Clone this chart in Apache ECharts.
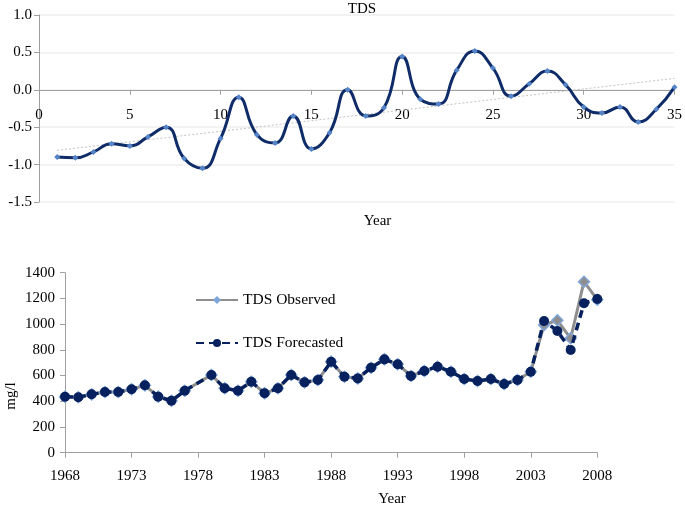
<!DOCTYPE html>
<html>
<head>
<meta charset="utf-8">
<script src="https://cdn.jsdelivr.net/npm/echarts@6/dist/echarts.min.js"></script>
<style>
  html, body { margin: 0; padding: 0; background: #fff; }
  #chart { width: 685px; height: 510px; }
</style>
</head>
<body>
<div id="chart"></div>
<script>
// ---- Top chart data (standardised TDS by year index) ----
var tdsIndex = [1,2,3,4,5,6,7,8,9,10,11,12,13,14,15,16,17,18,19,20,21,22,23,24,25,26,27,28,29,30,31,32,33,34,35];
var tdsValues = [-0.90,-0.91,-0.83,-0.72,-0.75,-0.63,-0.50,-0.92,-1.05,-0.65,
                 -0.10,-0.60,-0.71,-0.35,-0.79,-0.575,0.00,-0.35,-0.24,0.445,
                 -0.125,-0.19,0.26,0.52,0.29,-0.085,0.08,0.25,0.067,-0.23,
                 -0.31,-0.23,-0.43,-0.26,0.035];
var topXTicks = [0, 35, 5];      // min, max, interval
var topYTicks = [-1.5, 1.0, 0.5];

// ---- Bottom chart data (mg/l) ----
var years = [];
for (var yr = 1968; yr <= 2008; yr++) years.push(String(yr));
var observed = [435,431,454,472,472,493,524,436,404,482,
                null,605,501,482,552,462,501,604,547,565,
                708,591,578,661,726,688,597,635,669,630,
                573,558,573,534,565,630,994,1030,890,1330,1190];
var forecasted = [435,431,454,472,472,493,524,436,404,482,
                  null,605,501,482,552,462,501,604,547,565,
                  708,591,578,661,726,688,597,635,669,630,
                  573,558,573,534,565,630,1025,947,799,1163,1195];
var bottomYTicks = [0, 1400, 200];

// linear trend (least squares) of top series
var n = tdsIndex.length, sx = 0, sy = 0, sxx = 0, sxy = 0;
for (var i = 0; i < n; i++) {
  sx += tdsIndex[i]; sy += tdsValues[i];
  sxx += tdsIndex[i] * tdsIndex[i]; sxy += tdsIndex[i] * tdsValues[i];
}
var slope = (n * sxy - sx * sy) / (n * sxx - sx * sx);
var icpt = (sy - slope * sx) / n;
var x0 = tdsIndex[0], x1 = tdsIndex[n - 1];
var trend = [[x0, icpt + slope * x0], [x1, icpt + slope * x1]];

var FONT = '"Liberation Serif", "Times New Roman", serif';
var axisGray = '#a0a0a0';
var txt = { fontFamily: FONT, fontSize: 15, color: '#000' };

// top grid geometry; the category (x) axis line sits at value 0
var topGrid = { left: 39, top: 15, width: 638, height: 187 };
var zeroShift = -topGrid.height * (0 - topYTicks[0]) / (topYTicks[1] - topYTicks[0]);

var chart = echarts.init(document.getElementById('chart'), null, { renderer: 'canvas' });
chart.setOption({
  animation: false,
  backgroundColor: '#fff',
  grid: [
    topGrid,
    { left: 65, top: 272.7, width: 532.3, height: 180 }
  ],
  legend: {
    data: [
      { name: 'TDS Observed', itemStyle: { color: '#7fa6d8', borderColor: '#7fa6d8', borderWidth: 0 } },
      { name: 'TDS Forecasted' }
    ],
    orient: 'vertical', left: 190, top: 287,
    itemWidth: 42, itemHeight: 10, itemGap: 27,
    textStyle: { fontFamily: FONT, fontSize: 15.5, color: '#000' }
  },
  xAxis: [
    {
      type: 'value', gridIndex: 0, offset: zeroShift,
      min: topXTicks[0], max: topXTicks[1], interval: topXTicks[2],
      axisLine: { onZero: false, lineStyle: { color: axisGray, width: 1 } },
      axisTick: { show: true, inside: false, length: 5, lineStyle: { color: axisGray } },
      axisLabel: Object.assign({ margin: 18 }, txt),
      splitLine: { show: false }
    },
    {
      type: 'category', gridIndex: 1, data: years, boundaryGap: false,
      axisLine: { lineStyle: { color: axisGray, width: 1 } },
      axisTick: { show: true, interval: 4, length: 5, alignWithLabel: true, lineStyle: { color: axisGray } },
      axisLabel: Object.assign({ interval: 4, margin: 16 }, txt),
      splitLine: { show: false }
    }
  ],
  yAxis: [
    {
      type: 'value', gridIndex: 0,
      min: topYTicks[0], max: topYTicks[1], interval: topYTicks[2],
      axisLine: { show: true, onZero: false, lineStyle: { color: axisGray, width: 1 } },
      axisTick: { show: true, length: 5, lineStyle: { color: axisGray } },
      axisLabel: Object.assign({ margin: 7, formatter: function (v) { return v.toFixed(1); } }, txt),
      splitLine: { show: true, lineStyle: { color: '#efefef', width: 1.5 } }
    },
    {
      type: 'value', gridIndex: 1,
      min: bottomYTicks[0], max: bottomYTicks[1], interval: bottomYTicks[2],
      axisLine: { show: true, onZero: false, lineStyle: { color: axisGray, width: 1 } },
      axisTick: { show: true, length: 5, lineStyle: { color: axisGray } },
      axisLabel: Object.assign({ margin: 10, formatter: function (v) { return String(v); } }, txt),
      splitLine: { show: false }
    }
  ],
  graphic: [
    { type: 'text', x: 362, y: 9.5, style: { text: 'TDS', font: '15px ' + FONT, fill: '#000', align: 'center', verticalAlign: 'middle' } },
    { type: 'text', x: 377.5, y: 221, style: { text: 'Year', font: '15px ' + FONT, fill: '#000', align: 'center', verticalAlign: 'middle' } },
    { type: 'text', x: 392, y: 499, style: { text: 'Year', font: '15px ' + FONT, fill: '#000', align: 'center', verticalAlign: 'middle' } },
    { type: 'text', x: 11, y: 396, rotation: Math.PI / 2, style: { text: 'mg/l', font: '15px ' + FONT, fill: '#000', align: 'center', verticalAlign: 'middle' } }
  ],
  series: [
    {
      name: 'trend', type: 'line', xAxisIndex: 0, yAxisIndex: 0,
      data: trend, symbol: 'none', silent: true, z: 1,
      lineStyle: { color: '#c4c4c4', width: 1, type: [2, 2] }
    },
    {
      name: 'TDS', type: 'line', xAxisIndex: 0, yAxisIndex: 0,
      data: tdsIndex.map(function (x, k) { return [x, tdsValues[k]]; }),
      smooth: 0.5, symbol: 'diamond', symbolSize: 6, showSymbol: true, showAllSymbol: true, z: 3,
      itemStyle: { color: '#5585c8' },
      lineStyle: { color: '#0f2c69', width: 3 }
    },
    {
      name: 'TDS Observed', type: 'line', xAxisIndex: 1, yAxisIndex: 1,
      data: observed, connectNulls: true, showAllSymbol: true,
      symbol: 'diamond', symbolSize: 11, z: 3,
      itemStyle: { color: '#8e8e8e', borderColor: '#7fa6d8', borderWidth: 1.5 },
      lineStyle: { color: '#8e8e8e', width: 3 }
    },
    {
      name: 'TDS Forecasted', type: 'line', xAxisIndex: 1, yAxisIndex: 1,
      data: forecasted, connectNulls: true, showAllSymbol: true,
      symbol: 'circle', symbolSize: 10, z: 4,
      itemStyle: { color: '#06215e' },
      lineStyle: { color: '#06215e', width: 3.5, type: [8, 5] }
    }
  ]
});
</script>
</body>
</html>
